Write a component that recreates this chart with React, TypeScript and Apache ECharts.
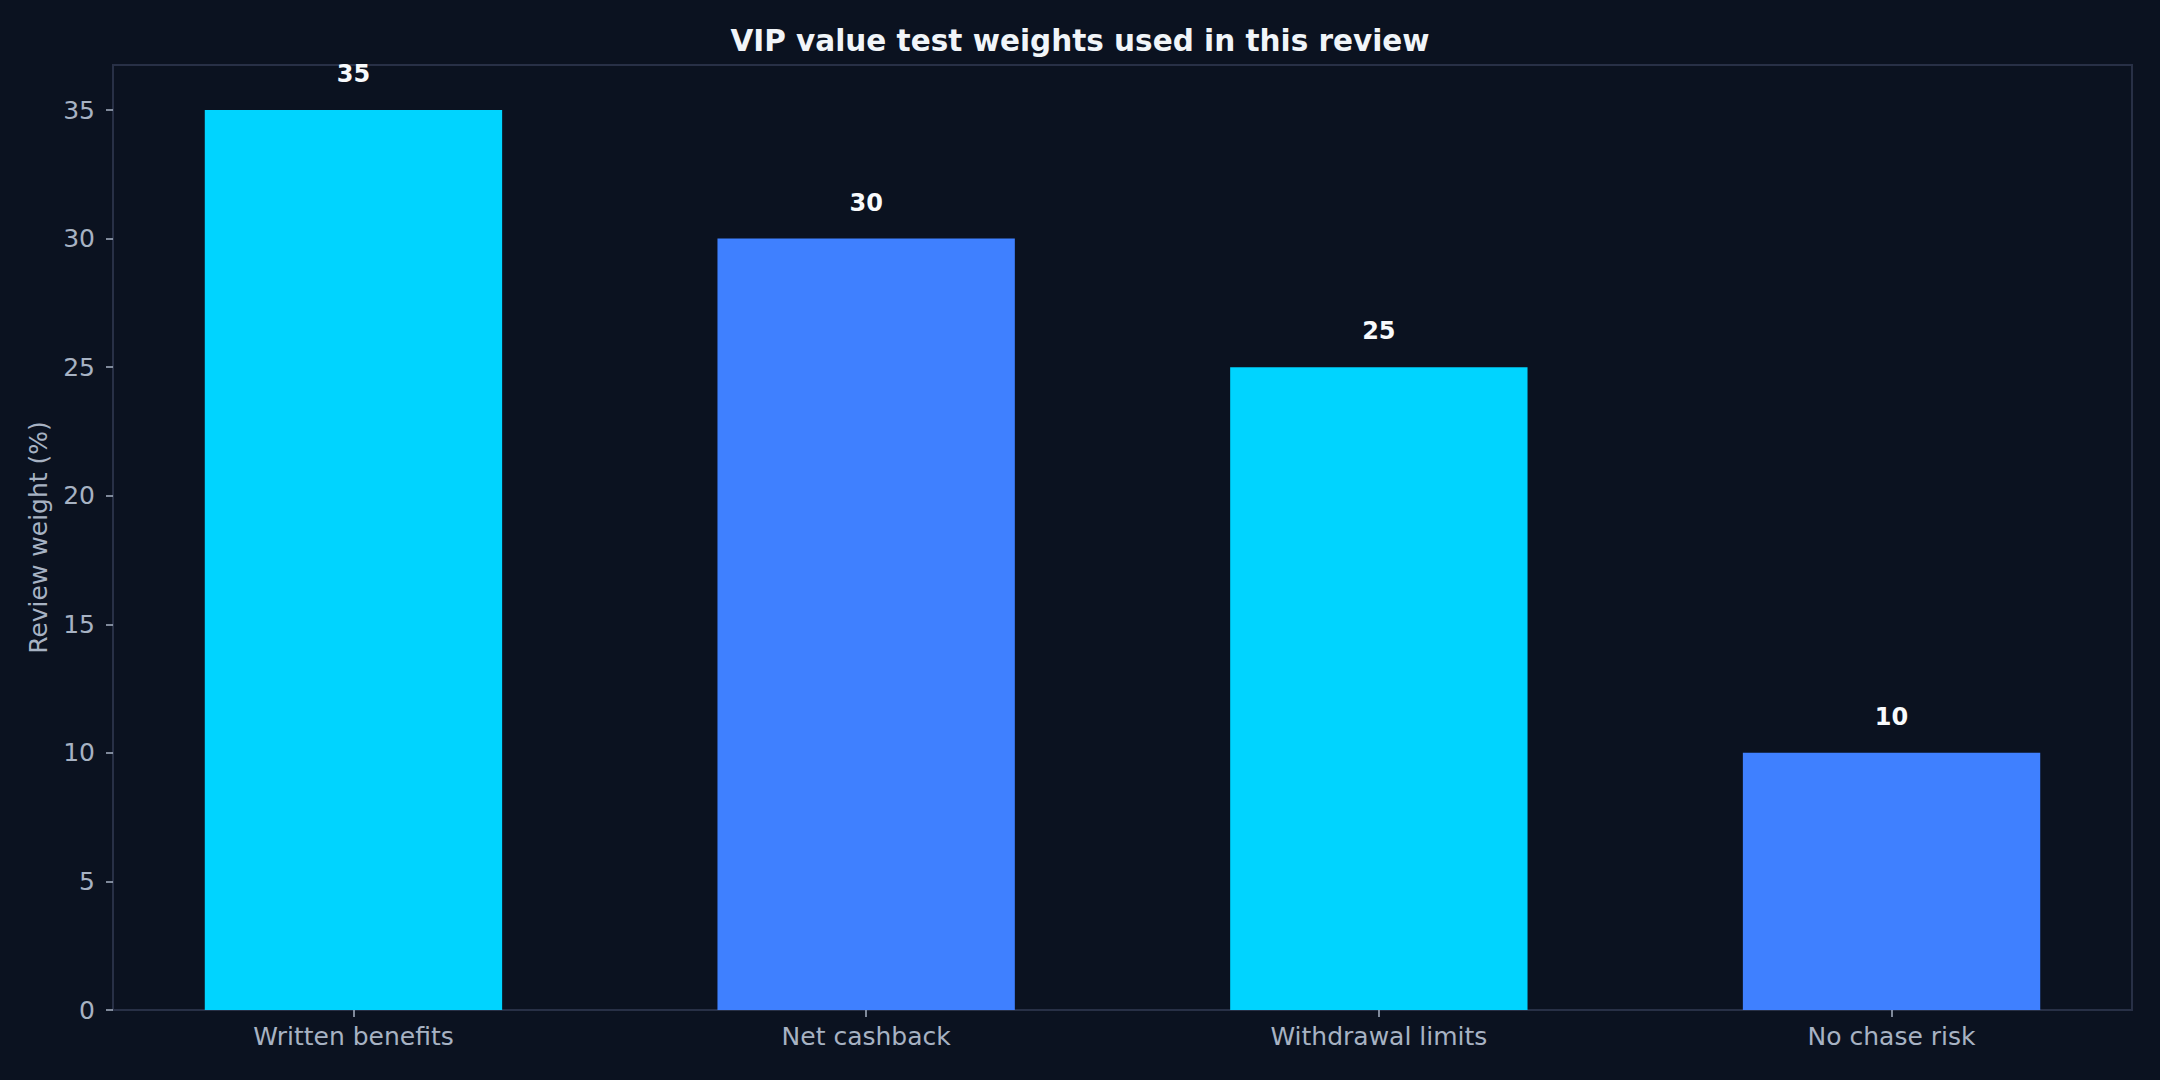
import { useEffect, useRef } from 'react';
import * as echarts from 'echarts';

const categories = ['Written benefits', 'Net cashback', 'Withdrawal limits', 'No chase risk'];
const weights = [35, 30, 25, 10];
const barColors = ['#00d4ff', '#3f80ff', '#00d4ff', '#3f80ff'];
const yTicks = [0, 5, 10, 15, 20, 25, 30, 35];

const BG = '#0b1220';
const FRAME = '#283046';
const MUTED = '#a7b2c3';
const FONT = 'DejaVu Sans';

export default function App() {
  const chartRef = useRef<HTMLDivElement>(null);

  useEffect(() => {
    document.body.style.margin = '0';
    document.body.style.background = BG;
    if (!chartRef.current) return;
    const chart = echarts.init(chartRef.current, undefined, { renderer: 'svg' });

    const option = {
      animation: false,
      backgroundColor: BG,
      textStyle: { fontFamily: FONT },
      title: {
        text: 'VIP value test weights used in this review',
        left: 'center',
        top: 21,
        textStyle: { color: '#f1f5f9', fontSize: 29.5, fontWeight: 'bold', fontFamily: FONT }
      },
      grid: {
        left: 113,
        right: 28,
        top: 65,
        bottom: 70,
        show: true,
        borderColor: FRAME,
        borderWidth: 2,
        backgroundColor: 'transparent'
      },
      xAxis: {
        type: 'value',
        min: -0.469,
        max: 3.469,
        splitLine: { show: false },
        axisLine: { show: true, onZero: false, lineStyle: { color: FRAME, width: 2 } },
        axisTick: {
          show: true,
          length: 7,
          lineStyle: { color: MUTED, width: 1.5 },
          customValues: categories.map((_, i) => i)
        },
        axisLabel: {
          color: MUTED,
          fontSize: 25,
          fontFamily: FONT,
          margin: 14,
          customValues: categories.map((_, i) => i),
          formatter: (v: number) => categories[Math.round(v)] ?? ''
        }
      },
      yAxis: {
        type: 'value',
        min: 0,
        max: 36.75,
        name: 'Review weight (%)',
        nameLocation: 'middle',
        nameGap: 62,
        nameTextStyle: { color: MUTED, fontSize: 25, fontFamily: FONT },
        splitLine: { show: false },
        axisLine: { show: true, onZero: false, lineStyle: { color: FRAME, width: 2 } },
        axisTick: {
          show: true,
          length: 7,
          lineStyle: { color: MUTED, width: 1.5 },
          customValues: yTicks
        },
        axisLabel: {
          color: MUTED,
          fontSize: 25,
          fontFamily: FONT,
          margin: 18,
          customValues: yTicks
        }
      },
      series: [
        {
          type: 'bar',
          barWidth: '58%',
          data: weights.map((w, i) => ({
            value: [i, w],
            itemStyle: { color: barColors[i] }
          })),
          labelLine: { show: false },
          label: {
            show: true,
            position: 'top',
            distance: 24,
            color: '#f8fafc',
            fontSize: 24,
            fontWeight: 'bold',
            fontFamily: FONT,
            formatter: (p: any) => String(p.value[1])
          }
        }
      ]
    };

    chart.setOption(option as echarts.EChartsOption);

    const handleResize = () => chart.resize();
    window.addEventListener('resize', handleResize);
    return () => {
      window.removeEventListener('resize', handleResize);
      chart.dispose();
    };
  }, []);

  return <div ref={chartRef} style={{ width: '100vw', height: '100vh' }} />;
}
